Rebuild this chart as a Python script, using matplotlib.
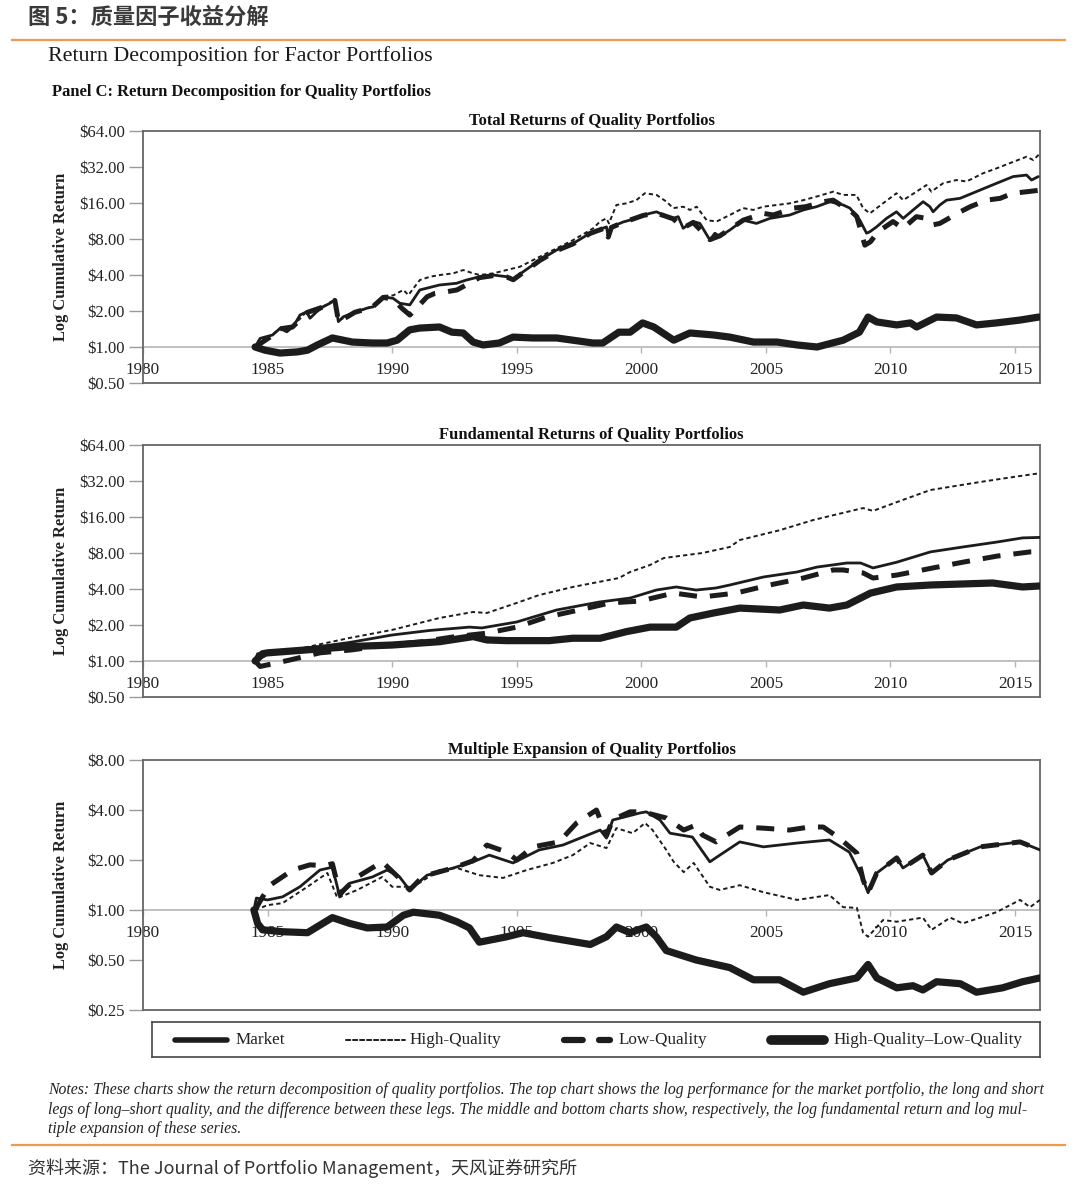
import matplotlib
matplotlib.use('Agg')
import matplotlib.pyplot as plt
import numpy as np
from matplotlib.ticker import FixedLocator, FuncFormatter, NullLocator
from matplotlib.lines import Line2D

SERIF = ['Liberation Serif', 'DejaVu Serif']
CJK = ['Noto Sans CJK SC', 'DejaVu Sans']
plt.rcParams['font.family'] = SERIF

# ---------------- data: (year, cumulative $) ----------------
tot_market = [(1984.5, 1.0), (1984.7, 1.18), (1985.2, 1.26), (1985.5, 1.43), (1985.77, 1.34), (1986.03, 1.48),
              (1986.3, 1.85), (1986.57, 1.97), (1986.7, 1.74), (1986.97, 1.97), (1987.23, 2.17), (1987.5, 2.32),
              (1987.7, 2.47), (1987.84, 1.63), (1988.04, 1.79), (1988.57, 1.97), (1988.98, 2.11), (1989.24, 2.17),
              (1989.64, 2.63), (1990.04, 2.55), (1990.31, 2.32), (1990.71, 2.25), (1991.11, 3.0), (1991.9, 3.3),
              (1992.58, 3.41), (1992.98, 3.63), (1993.51, 3.87), (1994.05, 4.0), (1994.6, 3.87), (1994.86, 3.68),
              (1995.26, 4.26), (1995.93, 5.34), (1996.6, 6.47), (1997.27, 7.36), (1997.94, 8.94), (1998.6, 10.1),
              (1998.67, 8.4), (1998.8, 10.1), (1999.27, 11.1), (1999.54, 11.5), (1999.94, 12.3), (2000.34, 13.1),
              (2000.61, 13.5), (2000.88, 12.7), (2001.28, 11.9), (2001.48, 12.3), (2001.68, 9.83), (2001.88, 10.5),
              (2002.08, 11.2), (2002.35, 10.8), (2002.75, 7.85), (2002.95, 8.94), (2003.15, 8.4), (2003.55, 9.5),
              (2004.09, 11.5), (2004.62, 10.8), (2005.16, 11.9), (2005.96, 12.7), (2006.5, 14.0), (2007.03, 14.9),
              (2007.57, 16.4), (2008.1, 15.4), (2008.37, 14.5), (2008.77, 11.5), (2009.04, 8.94), (2009.17, 9.2),
              (2009.44, 10.1), (2009.84, 11.9), (2010.24, 13.5), (2010.51, 11.9), (2010.91, 14.0), (2011.31, 16.4),
              (2011.58, 14.9), (2011.71, 13.5), (2011.98, 15.4), (2012.25, 16.9), (2012.79, 17.5), (2013.59, 20.5),
              (2014.26, 23.4), (2014.92, 26.6), (2015.46, 27.4), (2015.66, 24.9), (2015.93, 26.6)]
tot_high = [(1984.5, 1.0), (1985.2, 1.27), (1985.5, 1.44), (1986.03, 1.5), (1986.57, 1.98), (1987.23, 2.18),
            (1987.7, 2.5), (1987.84, 1.66), (1988.57, 1.98), (1989.24, 2.2), (1989.64, 2.68), (1990.04, 2.7),
            (1990.45, 3.0), (1990.65, 2.72), (1991.11, 3.63), (1991.52, 3.87), (1991.92, 4.0), (1992.45, 4.13),
            (1992.85, 4.4), (1993.25, 4.13), (1993.52, 4.0), (1994.06, 4.13), (1994.59, 4.4), (1995.13, 4.69),
            (1995.66, 5.34), (1996.33, 6.27), (1996.73, 6.9), (1997.27, 7.85), (1998.07, 9.83), (1998.34, 11.2),
            (1998.6, 11.9), (1998.7, 10.8), (1999.0, 15.4), (1999.4, 15.9), (1999.8, 16.9), (2000.14, 19.3),
            (2000.61, 18.7), (2001.01, 16.4), (2001.28, 14.5), (2001.68, 14.9), (2001.95, 14.0), (2002.22, 14.9),
            (2002.62, 11.5), (2003.02, 11.2), (2003.55, 12.7), (2004.09, 14.5), (2004.49, 14.0), (2004.89, 14.9),
            (2005.96, 15.9), (2006.5, 16.9), (2007.03, 18.1), (2007.7, 19.9), (2008.1, 18.7), (2008.63, 18.7),
            (2008.9, 14.5), (2009.17, 13.1), (2009.7, 15.9), (2010.24, 19.3), (2010.51, 16.9), (2011.04, 19.9),
            (2011.44, 22.6), (2011.64, 19.9), (2012.11, 23.4), (2012.65, 24.9), (2013.05, 24.2), (2013.72, 28.4),
            (2014.26, 31.2), (2014.92, 35.3), (2015.46, 39.0), (2015.73, 36.6), (2016.0, 41.5)]
tot_low = [(1984.5, 1.0), (1985.2, 1.25), (1985.5, 1.42), (1986.0, 1.47), (1986.6, 1.95), (1987.2, 2.15),
           (1987.7, 2.45), (1987.85, 1.62), (1988.5, 1.95), (1989.2, 2.15), (1989.64, 2.6), (1990.04, 2.5),
           (1990.4, 2.1), (1990.71, 1.85), (1991.1, 2.25), (1991.4, 2.63), (1991.7, 2.8), (1992.2, 2.9),
           (1992.6, 3.0), (1992.85, 3.2), (1993.5, 3.8), (1994.05, 3.95), (1994.6, 3.85), (1994.86, 3.65),
           (1995.26, 4.2), (1995.93, 5.3), (1996.6, 6.4), (1997.27, 7.3), (1997.94, 8.9), (1998.6, 10.0),
           (1998.67, 8.3), (1998.8, 10.0), (1999.27, 11.0), (2000.08, 12.6), (2000.6, 13.2), (2001.28, 11.8),
           (2001.68, 9.9), (2002.08, 11.0), (2002.75, 7.9), (2003.15, 8.5), (2004.09, 11.5), (2004.9, 13.1),
           (2005.3, 12.7), (2006.1, 14.5), (2006.6, 14.9), (2007.3, 16.4), (2007.7, 16.9), (2008.1, 14.9),
           (2008.37, 14.0), (2008.65, 12.3), (2008.97, 7.1), (2009.2, 7.6), (2009.5, 9.2), (2010.1, 11.2),
           (2010.5, 9.8), (2011.04, 12.3), (2011.44, 11.9), (2011.7, 10.5), (2011.98, 10.8), (2012.8, 13.5),
           (2013.2, 14.9), (2013.85, 16.9), (2014.4, 17.5), (2014.9, 19.3), (2015.5, 19.9), (2016.0, 20.5)]
tot_spread = [(1984.5, 1.0), (1984.9, 0.94), (1985.5, 0.89), (1986.2, 0.91), (1986.6, 0.94), (1987.0, 1.04),
              (1987.6, 1.19), (1988.4, 1.1), (1989.2, 1.08), (1989.8, 1.08), (1990.2, 1.14), (1990.7, 1.39),
              (1991.1, 1.44), (1991.9, 1.47), (1992.4, 1.33), (1992.85, 1.31), (1993.25, 1.1), (1993.65, 1.04),
              (1994.3, 1.08), (1994.85, 1.21), (1995.65, 1.19), (1996.6, 1.19), (1997.25, 1.14), (1998.05, 1.08),
              (1998.45, 1.08), (1999.1, 1.33), (1999.55, 1.33), (2000.05, 1.59), (2000.5, 1.47), (2001.3, 1.14),
              (2001.95, 1.31), (2002.9, 1.26), (2003.55, 1.21), (2004.5, 1.1), (2005.45, 1.1), (2006.25, 1.04),
              (2007.05, 1.0), (2008.1, 1.14), (2008.75, 1.33), (2009.1, 1.78), (2009.45, 1.62), (2010.25, 1.53),
              (2010.8, 1.59), (2011.05, 1.47), (2011.85, 1.78), (2012.65, 1.75), (2013.45, 1.53), (2014.25, 1.59),
              (2015.2, 1.68), (2015.95, 1.78)]

fund_market = [(1984.5, 1.0), (1984.6, 1.15), (1985.2, 1.17), (1986.6, 1.28), (1988.3, 1.43), (1990.0, 1.65),
               (1991.5, 1.8), (1993.1, 1.92), (1993.6, 1.89), (1995.0, 2.12), (1996.6, 2.67), (1998.3, 3.11),
               (1999.55, 3.36), (2000.6, 3.92), (2001.4, 4.16), (2002.2, 3.92), (2003.0, 4.08), (2003.55, 4.32),
               (2004.9, 5.04), (2006.25, 5.55), (2007.05, 6.1), (2008.25, 6.6), (2008.8, 6.6), (2009.3, 6.0),
               (2010.25, 6.7), (2011.6, 8.17), (2012.9, 8.98), (2014.3, 9.9), (2015.3, 10.7), (2016.0, 10.8)]
fund_high = [(1984.5, 1.0), (1985.2, 1.17), (1986.6, 1.31), (1988.3, 1.56), (1990.0, 1.82), (1991.9, 2.29),
             (1993.25, 2.57), (1993.8, 2.52), (1995.0, 3.06), (1995.9, 3.56), (1997.25, 4.16), (1999.1, 4.94),
             (1999.55, 5.55), (2000.35, 6.35), (2000.9, 7.26), (2002.45, 8.0), (2003.55, 8.98), (2003.95, 10.27),
             (2005.55, 12.4), (2006.9, 15.1), (2008.9, 19.0), (2009.3, 18.0), (2010.25, 21.3), (2011.6, 26.9),
             (2013.6, 31.4), (2014.9, 34.5), (2016.0, 37.2)]
fund_low = [(1984.5, 1.0), (1984.7, 0.9), (1985.9, 1.02), (1987.1, 1.17), (1988.4, 1.24), (1989.8, 1.36),
            (1991.1, 1.44), (1992.45, 1.59), (1993.8, 1.71), (1995.0, 1.92), (1996.2, 2.33), (1997.5, 2.67),
            (1998.75, 3.06), (1999.95, 3.17), (2001.3, 3.7), (2002.45, 3.43), (2003.8, 3.7), (2005.15, 4.32),
            (2006.5, 4.94), (2007.7, 5.77), (2008.1, 5.77), (2008.9, 5.45), (2009.3, 4.94), (2010.25, 5.23),
            (2011.7, 6.0), (2012.9, 6.7), (2014.3, 7.55), (2015.6, 8.17), (2016.0, 8.2)]
fund_spread = [(1984.5, 1.0), (1984.8, 1.15), (1985.0, 1.17), (1986.6, 1.24), (1988.3, 1.32), (1990.0, 1.36),
               (1991.9, 1.45), (1993.25, 1.6), (1993.8, 1.5), (1994.6, 1.48), (1996.3, 1.48), (1997.25, 1.55),
               (1998.35, 1.55), (1999.4, 1.76), (2000.35, 1.92), (2001.4, 1.92), (2001.95, 2.29), (2002.9, 2.52),
               (2003.95, 2.77), (2005.55, 2.67), (2006.5, 2.94), (2007.55, 2.77), (2008.25, 2.94), (2009.2, 3.7),
               (2010.25, 4.16), (2011.6, 4.32), (2014.1, 4.49), (2015.3, 4.16), (2016.0, 4.24)]

mult_market = [(1984.45, 1.0), (1984.55, 1.18), (1985.0, 1.15), (1985.6, 1.2), (1986.3, 1.38), (1987.1, 1.74),
               (1987.6, 1.81), (1987.9, 1.2), (1988.3, 1.45), (1989.2, 1.58), (1989.8, 1.74), (1990.3, 1.58),
               (1990.7, 1.32), (1991.4, 1.62), (1992.45, 1.79), (1993.25, 1.95), (1993.9, 2.14), (1994.85, 1.92),
               (1995.9, 2.3), (1996.85, 2.46), (1997.65, 2.75), (1998.35, 3.03), (1998.6, 2.71), (1998.85, 3.48),
               (1999.95, 3.84), (2000.2, 3.9), (2000.75, 3.48), (2001.15, 2.9), (2002.05, 2.75), (2002.75, 1.95),
               (2003.15, 2.14), (2003.95, 2.57), (2004.9, 2.4), (2006.25, 2.53), (2007.55, 2.64), (2008.35, 2.23),
               (2008.9, 1.52), (2009.1, 1.27), (2009.45, 1.67), (2010.25, 2.06), (2010.5, 1.79), (2011.3, 2.14),
               (2011.65, 1.67), (2012.3, 2.0), (2013.6, 2.4), (2015.2, 2.57), (2016.0, 2.3)]
mult_high = [(1984.5, 1.0), (1985.0, 1.07), (1985.6, 1.1), (1986.6, 1.38), (1987.4, 1.67), (1987.8, 1.18),
             (1988.6, 1.32), (1989.6, 1.58), (1990.0, 1.38), (1990.85, 1.38), (1991.9, 1.74), (1992.6, 1.79),
             (1993.5, 1.62), (1994.45, 1.56), (1995.4, 1.74), (1996.45, 1.92), (1997.25, 2.14), (1997.95, 2.53),
             (1998.6, 2.36), (1999.0, 3.11), (1999.65, 2.9), (2000.15, 3.34), (2000.45, 3.03), (2001.0, 2.3),
             (2001.3, 1.95), (2001.7, 1.69), (2002.1, 1.92), (2002.75, 1.38), (2003.15, 1.32), (2003.95, 1.41),
             (2004.9, 1.28), (2006.25, 1.15), (2007.55, 1.23), (2008.1, 1.04), (2008.65, 1.03), (2008.9, 0.73),
             (2009.1, 0.69), (2009.7, 0.87), (2010.25, 0.85), (2011.3, 0.9), (2011.65, 0.76), (2012.4, 0.9),
             (2012.9, 0.83), (2014.25, 0.97), (2015.2, 1.15), (2015.6, 1.04), (2016.0, 1.15)]
mult_low = [(1984.5, 1.0), (1984.8, 1.2), (1985.1, 1.41), (1986.0, 1.74), (1986.7, 1.87), (1987.3, 1.85),
            (1987.6, 1.9), (1987.9, 1.25), (1988.6, 1.58), (1989.6, 1.95), (1990.2, 1.6), (1990.7, 1.32),
            (1991.1, 1.52), (1991.4, 1.62), (1992.45, 1.79), (1993.25, 1.98), (1993.8, 2.46), (1994.6, 2.23),
            (1995.0, 2.0), (1995.65, 2.4), (1996.7, 2.57), (1997.4, 3.34), (1998.2, 4.0), (1998.6, 2.8),
            (1998.85, 3.5), (1999.55, 3.9), (2000.05, 3.9), (2001.0, 3.58), (2001.7, 3.03), (2002.2, 3.25),
            (2002.45, 2.83), (2003.0, 2.57), (2003.95, 3.16), (2004.9, 3.11), (2005.95, 3.03), (2006.75, 3.16),
            (2007.3, 3.16), (2007.95, 2.71), (2008.65, 2.2), (2008.9, 1.52), (2009.1, 1.27), (2009.45, 1.67),
            (2010.25, 2.06), (2010.5, 1.79), (2011.3, 2.14), (2011.65, 1.67), (2012.3, 2.0), (2013.6, 2.4),
            (2015.2, 2.57), (2016.0, 2.3)]
mult_spread = [(1984.45, 1.0), (1984.6, 0.83), (1984.8, 0.76), (1985.6, 0.74), (1986.6, 0.73), (1987.6, 0.9),
               (1988.3, 0.83), (1989.0, 0.78), (1989.8, 0.79), (1990.45, 0.93), (1990.85, 0.97), (1991.9, 0.93),
               (1992.6, 0.85), (1993.1, 0.78), (1993.5, 0.64), (1994.6, 0.69), (1995.25, 0.73), (1996.35, 0.68),
               (1997.95, 0.62), (1998.6, 0.69), (1999.0, 0.79), (1999.55, 0.73), (2000.2, 0.79), (2000.6, 0.69),
               (2001.0, 0.57), (2002.2, 0.5), (2003.55, 0.45), (2004.5, 0.38), (2005.55, 0.38), (2006.5, 0.32),
               (2007.55, 0.36), (2008.65, 0.39), (2009.1, 0.47), (2009.45, 0.39), (2010.25, 0.34), (2010.9, 0.35),
               (2011.3, 0.33), (2011.85, 0.37), (2012.8, 0.36), (2013.45, 0.32), (2014.5, 0.34), (2015.3, 0.37),
               (2016.0, 0.39)]

panel_titles = ['Total Returns of Quality Portfolios',
                'Fundamental Returns of Quality Portfolios',
                'Multiple Expansion of Quality Portfolios']
series_names = ['Market', 'High-Quality', 'Low-Quality', 'High-Quality\u2013Low-Quality']
x_ticks = [1980, 1985, 1990, 1995, 2000, 2005, 2010, 2015]

# ---------------- styles ----------------
INK = '#1c1c1c'
STYLES = [dict(lw=2.0, ls='-'),
          dict(lw=1.4, ls=(0, (2.2, 1.6))),
          dict(lw=3.6, ls=(0, (3.6, 2.6))),
          dict(lw=5.2, ls='-')]
FRAME = '#666666'

W, H = 1080, 1200
fig = plt.figure(figsize=(W / 100, H / 100), dpi=100)
fig.patch.set_facecolor('white')


def fx(px):
    return px / W


def fy(py):
    return 1 - py / H


def make_axes(top, bottom, ymin, ymax, title, data):
    ax = fig.add_axes([fx(143), fy(bottom), fx(1040 - 143), (bottom - top) / H])
    for (ser, st) in zip(data, STYLES):
        xs = [p[0] for p in ser]
        ys = [p[1] for p in ser]
        ax.plot(xs, ys, color=INK, lw=st['lw'], ls=st['ls'], solid_joinstyle='round',
                solid_capstyle='round', dash_capstyle='butt', zorder=3)
    ax.set_yscale('log', base=2)
    ax.set_ylim(ymin, ymax)
    ax.set_xlim(1980, 2016)
    n = int(round(np.log2(ymax / ymin)))
    ax.yaxis.set_major_locator(FixedLocator([ymin * 2 ** i for i in range(n + 1)]))
    ax.yaxis.set_minor_locator(NullLocator())
    ax.yaxis.set_major_formatter(FuncFormatter(lambda v, p: f'${v:.2f}'))
    ax.xaxis.set_major_locator(FixedLocator(x_ticks))
    ax.xaxis.set_minor_locator(NullLocator())
    ax.spines['bottom'].set_position(('data', 1.0))
    ax.spines['bottom'].set_color('#b5b5b5')
    ax.spines['bottom'].set_linewidth(1.2)
    ax.spines['bottom'].set_zorder(1)
    for s in ['left', 'top', 'right']:
        ax.spines[s].set_color(FRAME)
        ax.spines[s].set_linewidth(1.3)
    ax.plot([0, 1], [0, 0], transform=ax.transAxes, color=FRAME, lw=1.3, clip_on=False, zorder=4)
    ax.tick_params(axis='x', direction='out', length=4, width=1, color='#b5b5b5', pad=7,
                   labelsize=12.3, labelcolor='#222222')
    ax.tick_params(axis='y', direction='out', length=10, width=1, color='#9a9a9a', pad=3,
                   labelsize=12, labelcolor='#222222')
    ax.set_title(title, fontsize=12, fontweight='bold', color='#111111', pad=4)
    ax.set_ylabel('Log Cumulative Return', fontsize=11.9, fontweight='bold', color='#222222')
    ax.yaxis.set_label_coords(-0.082, 0.5)
    return ax


make_axes(131, 383, 0.5, 64, panel_titles[0], [tot_market, tot_high, tot_low, tot_spread])
make_axes(445, 697, 0.5, 64, panel_titles[1], [fund_market, fund_high, fund_low, fund_spread])
make_axes(760, 1010, 0.25, 8, panel_titles[2], [mult_market, mult_high, mult_low, mult_spread])

# ---------------- legend box ----------------
lg = fig.add_axes([fx(152), fy(1057), fx(1040 - 152), 35 / H])
lg.set_xlim(0, 888)
lg.set_ylim(0, 35)
lg.set_xticks([])
lg.set_yticks([])
for s in lg.spines.values():
    s.set_color('#444444')
    s.set_linewidth(1.2)
handle_px = [(23, 75, 84), (194, 253, 258), (412, 458, 467), (619, 672, 682)]
leg_styles = [dict(lw=4.0, ls='-'), dict(lw=1.4, ls=(0, (2.2, 1.4))),
              dict(lw=4.5, ls=(0, (3.0, 2.6))), dict(lw=7.0, ls='-')]
for (a, b, t), st, name in zip(handle_px, leg_styles, series_names):
    lg.add_line(Line2D([a, b], [17.5, 17.5], color=INK, lw=st['lw'], ls=st['ls'],
                       solid_capstyle='round', dash_capstyle='round'))
    lg.text(t, 17.5, name, fontsize=12.3, va='center', ha='left', color='#222222')

# ---------------- header / footer ----------------
fig.text(fx(28), fy(17), '图 5：质量因子收益分解', family=CJK, fontsize=16, fontweight='bold',
         color='#3a3a3a', va='center', ha='left')
fig.add_artist(Line2D([fx(12), fx(1065)], [fy(40), fy(40)], color='#EE9A4D', lw=1.6))
fig.text(fx(48), fy(56), 'Return Decomposition for Factor Portfolios', fontsize=15.8,
         color='#1a1a1a', va='center', ha='left')
fig.text(fx(52), fy(92), 'Panel C: Return Decomposition for Quality Portfolios', fontsize=11.9,
         fontweight='bold', color='#111111', va='center', ha='left')

notes = ['Notes: These charts show the return decomposition of quality portfolios. The top chart shows the log '
         'performance for the market portfolio, the long and short',
         'legs of long\u2013short quality, and the difference between these legs. The middle and bottom charts '
         'show, respectively, the log fundamental return and log mul-',
         'tiple expansion of these series.']
note_y = [1090, 1110, 1129]
renderer = fig.canvas.get_renderer()
probe = fig.text(0, 0, notes[0], fontsize=11, fontstyle='italic')
wpx = probe.get_window_extent(renderer=renderer).width
probe.remove()
nfs = 11 * 994 / wpx
for line, yy in zip(notes, note_y):
    fig.text(fx(48), fy(yy), line, fontsize=nfs, fontstyle='italic', color='#222222',
             va='center', ha='left')

fig.add_artist(Line2D([fx(12), fx(1065)], [fy(1145), fy(1145)], color='#EE9A4D', lw=1.6))
fig.text(fx(28), fy(1168), '资料来源：The Journal of Portfolio Management，天风证券研究所', family=CJK,
         fontsize=13, color='#333333', va='center', ha='left')

fig.savefig('out.png', dpi=100, facecolor='white')
